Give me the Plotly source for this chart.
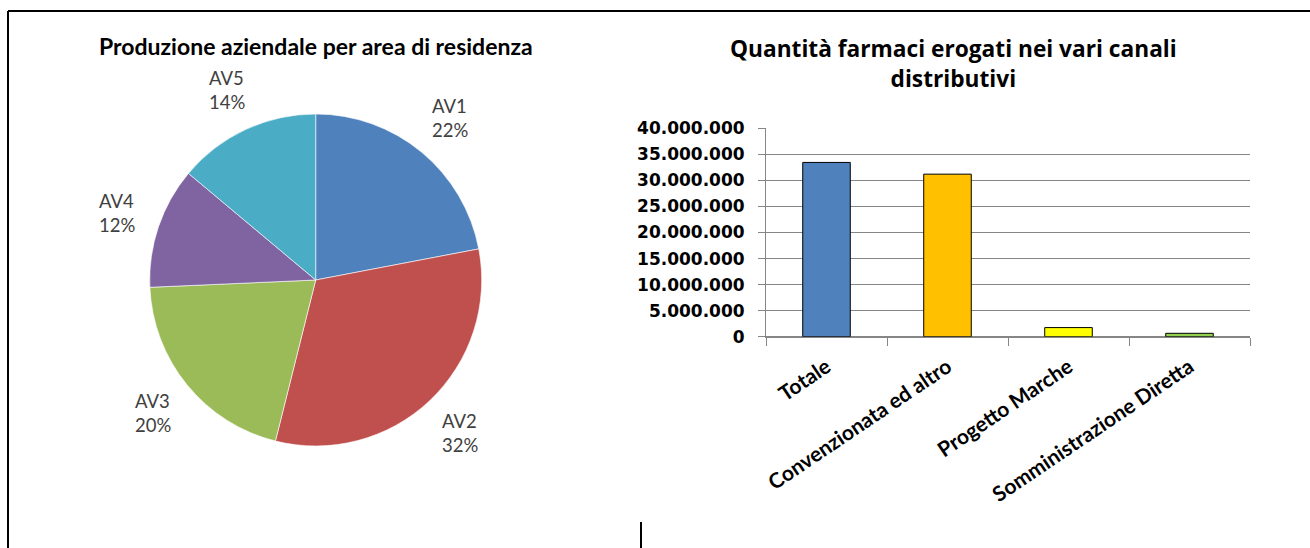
import math
import plotly.graph_objects as go

W, H = 1310, 548

# ---- data ----
pie_title = "Produzione aziendale per area di residenza"
pie_labels = ["AV1", "AV2", "AV3", "AV4", "AV5"]
pie_values = [22.0, 31.9, 20.4, 11.8, 13.9]
pie_colors = ["#4F81BD", "#C0504D", "#9BBB59", "#8064A2", "#4BACC6"]

bar_title = "Quantità farmaci erogati nei vari canali<br>distributivi"
bar_categories = ["Totale", "Convenzionata ed altro", "Progetto Marche", "Somministrazione Diretta"]
bar_values = [33450000, 31200000, 1750000, 650000]
bar_colors = ["#4F81BD", "#FFC000", "#FFFF00", "#92D050"]
y_ticks = [0, 5000000, 10000000, 15000000, 20000000, 25000000, 30000000, 35000000, 40000000]


def px_x(x):
    return x / W


def px_y(y):
    return 1 - y / H


# pie geometry (pixels)
PIE_CX, PIE_CY, PIE_R = 315.7, 280.0, 166.0
LABEL_R = 210.0

fig = go.Figure()

fig.add_trace(go.Pie(
    labels=pie_labels,
    values=pie_values,
    sort=False,
    direction="clockwise",
    rotation=0,
    marker=dict(colors=pie_colors, line=dict(color="rgba(255,255,255,0.6)", width=1)),
    textinfo="none",
    domain=dict(x=[px_x(PIE_CX - PIE_R), px_x(PIE_CX + PIE_R)],
                y=[px_y(PIE_CY + PIE_R), px_y(PIE_CY - PIE_R)]),
    showlegend=False,
    hoverinfo="label+percent",
))

fig.add_trace(go.Bar(
    x=bar_categories,
    y=bar_values,
    marker=dict(color=bar_colors, line=dict(color="#000000", width=1)),
    showlegend=False,
    xaxis="x", yaxis="y",
))

# pie data labels, placed along each slice's mid-angle (computed from the values)
annotations = []
total = sum(pie_values)
cum = 0.0
for lab, v in zip(pie_labels, pie_values):
    mid = (cum + v / 2) / total * 2 * math.pi
    cum += v
    lx = PIE_CX + LABEL_R * math.sin(mid)
    ly = PIE_CY - LABEL_R * math.cos(mid)
    annotations.append(dict(
        text=f"{lab}<br>{round(v / total * 100)}%",
        x=px_x(lx), y=px_y(ly), xref="paper", yref="paper",
        xanchor="center", yanchor="middle", showarrow=False, align="left",
        font=dict(family="Lato", size=18.5, color="#404040"),
    ))

annotations.append(dict(
    text=pie_title, x=px_x(315.7), y=px_y(46), xref="paper", yref="paper",
    xanchor="center", yanchor="middle", showarrow=False,
    font=dict(family="Lato", size=23, color="#000000", weight="bold")))
annotations.append(dict(
    text=bar_title, x=px_x(953), y=px_y(64), xref="paper", yref="paper",
    xanchor="center", yanchor="middle", showarrow=False,
    font=dict(family="Open Sans", size=22.7, color="#000000", weight="bold")))

grid_col = "#868686"
fig.update_layout(
    width=W, height=H,
    autosize=False,
    margin=dict(l=0, r=0, t=0, b=0, pad=0, autoexpand=False),
    paper_bgcolor="white",
    plot_bgcolor="white",
    separators=",.",
    bargap=0.607,
    xaxis=dict(
        domain=[px_x(766), px_x(1250)],
        automargin=False,
        showline=True, linecolor=grid_col, linewidth=1,
        ticks="outside", tickson="boundaries", ticklen=8, tickcolor=grid_col,
        tickangle=-34,
        tickfont=dict(family="Lato", size=21, color="#000000", weight="bold"),
        ticklabelstandoff=9,
        showgrid=False,
    ),
    yaxis=dict(
        domain=[px_y(336.7), px_y(128.3)],
        automargin=False,
        range=[0, 40000000],
        tickvals=y_ticks,
        tickformat=",d",
        showline=True, linecolor=grid_col, linewidth=1,
        ticks="outside", ticklen=7, tickcolor=grid_col,
        showgrid=True, gridcolor=grid_col, gridwidth=1,
        zeroline=True, zerolinecolor=grid_col, zerolinewidth=1,
        tickfont=dict(family="DejaVu Sans", size=17, color="#000000", weight="bold"),
        ticklabelstandoff=10,
    ),
    annotations=annotations,
    shapes=[
        dict(type="line", xref="paper", yref="paper", x0=px_x(8), x1=1, y0=px_y(11), y1=px_y(11),
             line=dict(color="#000000", width=2)),
        dict(type="line", xref="paper", yref="paper", x0=px_x(8), x1=px_x(8), y0=px_y(11), y1=0,
             line=dict(color="#000000", width=2)),
        dict(type="line", xref="paper", yref="paper", x0=px_x(641), x1=px_x(641), y0=px_y(522), y1=0,
             line=dict(color="#000000", width=2)),
    ],
)

fig.write_html(
    "out.html",
    config={"responsive": False, "displayModeBar": False},
    post_script="document.body.style.margin='0';document.body.style.overflow='hidden';",
)
